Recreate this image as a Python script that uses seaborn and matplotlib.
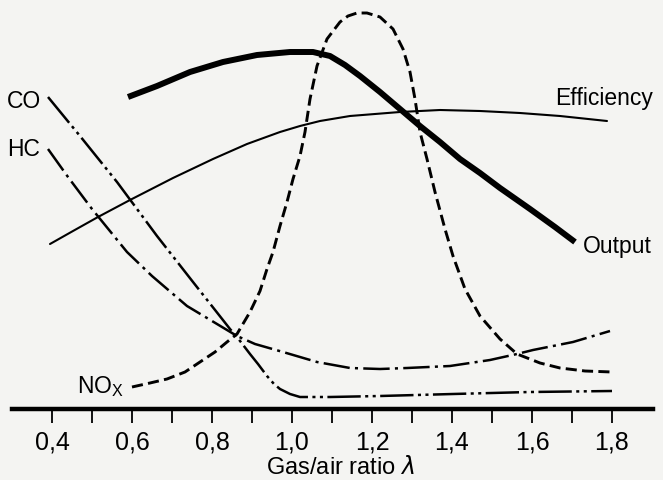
import matplotlib
matplotlib.use("Agg")
import matplotlib.pyplot as plt
import seaborn as sns
import numpy as np
from matplotlib.ticker import FixedLocator, FuncFormatter

# ---------------- data (lambda, relative level above the axis) ----------------
output_x = [0.59, 0.6625, 0.745, 0.8275, 0.9125, 0.995, 1.0525, 1.095, 1.1325, 1.17,
            1.22, 1.27, 1.32, 1.37, 1.42, 1.47, 1.52, 1.595, 1.6575, 1.7075]
output_y = [312, 323, 337, 347, 354, 357, 357, 353, 344, 333,
            317, 300, 283, 267, 250, 236, 221, 200, 182, 167]

eff_x = [0.395, 0.4525, 0.515, 0.595, 0.7025, 0.8025, 0.8875, 0.97, 1.02, 1.07,
         1.145, 1.27, 1.37, 1.47, 1.57, 1.67, 1.7875]
eff_y = [165, 178, 192, 209, 231, 250, 265, 277, 283, 288,
         293, 297, 299, 298, 296, 293, 288]

nox_x = [0.6, 0.645, 0.6875, 0.7325, 0.77, 0.8075, 0.8375, 0.8625, 0.895, 0.92, 0.9375,
         0.9525, 0.97, 0.9875, 1.0025, 1.02, 1.0325, 1.045, 1.0625, 1.0875, 1.12, 1.14,
         1.1625, 1.1875, 1.22, 1.2525, 1.2775, 1.295, 1.3075, 1.32, 1.3375, 1.3575,
         1.3825, 1.4025, 1.4325, 1.47, 1.52, 1.5625, 1.62, 1.67, 1.7325, 1.8]
nox_y = [22, 26, 30, 37, 47, 57, 67, 75, 97, 118, 140,
         157, 183, 207, 230, 253, 277, 310, 343, 370, 387, 393,
         396, 396, 392, 380, 360, 337, 310, 277, 250, 217,
         180, 153, 120, 93, 70, 55, 46, 41, 38, 37]

co_x = [0.39, 0.47, 0.5625, 0.6625, 0.7525, 0.845, 0.8625, 0.895, 0.915, 0.9375, 0.955,
        0.97, 0.995, 1.02, 1.095, 1.22, 1.4025, 1.595, 1.8]
co_y = [312, 273, 227, 173, 127, 80, 72, 55, 45, 33, 25,
        20, 15, 12, 12, 13, 15, 17, 18]

hc_x = [0.39, 0.44, 0.5, 0.5875, 0.65, 0.7375, 0.8125, 0.8625, 0.9075, 0.9775,
        1.0625, 1.145, 1.22, 1.2875, 1.395, 1.495, 1.5625, 1.6025, 1.7025, 1.795]
hc_y = [260, 232, 200, 157, 133, 103, 85, 73, 65, 57,
        47, 41, 40, 41, 43, 49, 55, 59, 67, 78]

major_ticks = [0.4, 0.6, 0.8, 1.0, 1.2, 1.4, 1.6, 1.8]
minor_ticks = [0.5, 0.7, 0.9, 1.1, 1.3, 1.5, 1.7]
x_label = "Gas/air ratio $\\lambda$"

# ---------------- style ----------------
sns.set_style("white")
plt.rcParams["font.family"] = ["Liberation Sans", "DejaVu Sans"]
plt.rcParams["lines.scale_dashes"] = False
plt.rcParams["text.color"] = "black"
plt.rcParams["axes.labelcolor"] = "black"
plt.rcParams["xtick.color"] = "black"
plt.rcParams["xtick.labelcolor"] = "black"
bg = "#f4f4f2"

fig = plt.figure(figsize=(6.63, 4.81), dpi=100)
fig.patch.set_facecolor(bg)
ax = fig.add_axes([0, 71 / 481, 1, 410 / 481])
ax.set_facecolor(bg)

common = dict(ax=ax, color="black", estimator=None, sort=False,
              solid_joinstyle="round", dash_joinstyle="round")
sns.lineplot(x=eff_x, y=eff_y, lw=1.5, **common)
sns.lineplot(x=output_x, y=output_y, lw=4.3, solid_capstyle="butt", **common)
sns.lineplot(x=nox_x, y=nox_y, lw=2.1, linestyle=(0, (8, 3.8)), **common)
sns.lineplot(x=co_x, y=co_y, lw=1.8, linestyle=(0, (24, 3.2, 2.2, 3.2, 2.2, 3.2)), **common)
sns.lineplot(x=hc_x, y=hc_y, lw=1.8, linestyle=(0, (19, 3.8, 2.2, 3.8)), **common)

ax.set_xlim(0.27, 1.9275)
ax.set_ylim(0, 410)

for s in ["top", "left", "right"]:
    ax.spines[s].set_visible(False)
ax.spines["bottom"].set_linewidth(3.2)
ax.spines["bottom"].set_color("black")
ax.spines["bottom"].set_bounds(0.30, 1.9025)

ax.set_yticks([])
ax.xaxis.set_major_locator(FixedLocator(major_ticks))
ax.xaxis.set_minor_locator(FixedLocator(minor_ticks))
ax.xaxis.set_major_formatter(FuncFormatter(lambda v, p: f"{v:.1f}".replace(".", ",")))
ax.tick_params(axis="x", which="both", direction="out", length=10, width=1.3,
               color="black", bottom=True)
ax.tick_params(axis="x", which="major", pad=5, labelsize=18, labelcolor="black")

ax.set_xlabel(x_label, fontsize=17, color="black")
ax.xaxis.set_label_coords(340 / 663, -58 / 410)
ax.xaxis.label.set_va("center")

lab = dict(fontsize=16.5, va="center", ha="left", color="black")
ax.text(0.2875, 308, "CO", **lab)
ax.text(0.2875, 260, "HC", **lab)
ax.text(1.6575, 312, "Efficiency", **lab)
ax.text(1.7275, 163, "Output", **lab)
ax.text(0.4625, 23, "NO$_\\mathregular{X}$", **lab)

fig.savefig("out.png", dpi=100, facecolor=bg)
